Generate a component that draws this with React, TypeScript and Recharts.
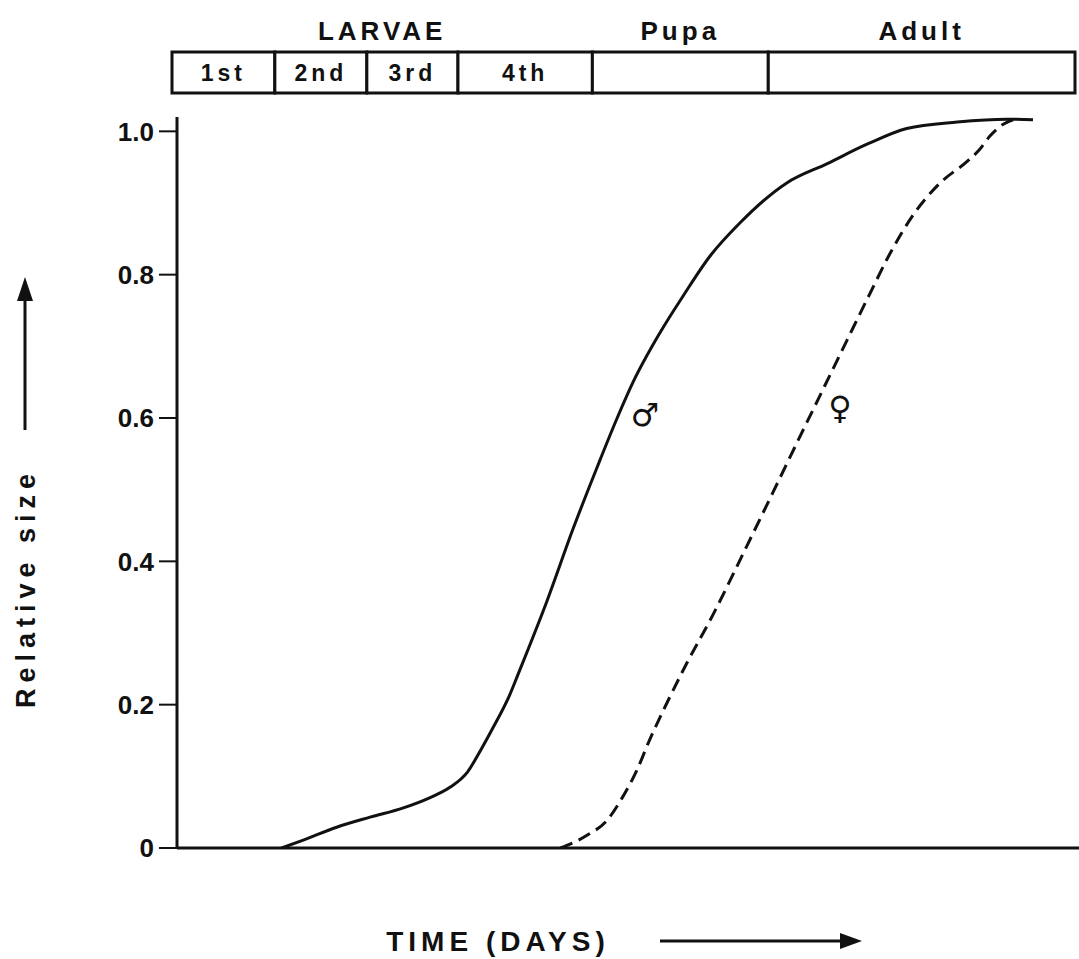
import React from "react";
import {
  Bar,
  BarChart,
  LabelList,
  Line,
  LineChart,
  ReferenceDot,
  XAxis,
  YAxis,
} from "recharts";

// time axis has no ticks, so it is kept in arbitrary units 0..100
const maleTime = [11.6, 14.0, 17.7, 21.4, 25.1, 28.0, 30.3, 32.2, 33.6, 35.0, 36.9, 37.8, 41.0, 43.9, 46.6, 48.8, 50.6, 53.5, 56.2, 59.1, 62.4, 67.6, 72.1, 76.5, 80.9, 86.5, 92.0, 94.9];
const maleSize = [0, 0.011, 0.029, 0.043, 0.056, 0.07, 0.085, 0.106, 0.135, 0.167, 0.214, 0.242, 0.344, 0.445, 0.532, 0.6, 0.651, 0.718, 0.772, 0.826, 0.872, 0.928, 0.955, 0.982, 1.004, 1.013, 1.017, 1.016];

const femaleTime = [42.5, 45.5, 47.7, 49.4, 51.0, 52.4, 54.3, 56.4, 59.4, 63.2, 66.1, 69.1, 71.0, 74.3, 76.6, 79.2, 81.6, 84.6, 87.6, 89.0, 90.1, 91.6, 92.9];
const femaleSize = [0, 0.018, 0.039, 0.071, 0.109, 0.151, 0.202, 0.255, 0.325, 0.422, 0.497, 0.575, 0.624, 0.709, 0.768, 0.833, 0.883, 0.928, 0.958, 0.975, 0.993, 1.01, 1.017];

const yTicks = [0, 0.2, 0.4, 0.6, 0.8, 1.0];

const stageNames = ["1st", "2nd", "3rd", "4th", "", ""];
const stageDays = [11.4, 10.2, 10.1, 14.9, 19.5, 34.0];
const groupNames = ["LARVAE", "Pupa", "Adult"];
const groupStageCount = [4, 1, 1];

const maleSign = { t: 51.9, v: 0.604, sign: "♂" };
const femaleSign = { t: 73.5, v: 0.614, sign: "♀" };

const ink = "#111";
const font = "'Liberation Sans', Arial, sans-serif";

const maleData = maleTime.map((t, i) => ({ t, size: maleSize[i] }));
const femaleData = femaleTime.map((t, i) => ({ t, size: femaleSize[i] }));

const stageRow: Record<string, number | string> = { row: "stages" };
stageDays.forEach((d, i) => {
  stageRow[`s${i}`] = d;
});
const stageTotal = stageDays.reduce((a, b) => a + b, 0);

const groupCenters: number[] = [];
{
  let start = 0;
  let idx = 0;
  groupStageCount.forEach((n) => {
    const len = stageDays.slice(idx, idx + n).reduce((a, b) => a + b, 0);
    groupCenters.push(start + len / 2);
    start += len;
    idx += n;
  });
}

const XLabel = (props: any) => {
  const vb = props.viewBox || { x: 177, y: 848 };
  const ty = vb.y + 93;
  return (
    <g>
      <text
        x={vb.x + 321}
        y={ty}
        textAnchor="middle"
        dominantBaseline="central"
        fontFamily={font}
        fontWeight={700}
        fontSize={28}
        letterSpacing={5}
        fill={ink}
      >
        TIME (DAYS)
      </text>
      <line x1={vb.x + 483} y1={ty} x2={vb.x + 670} y2={ty} stroke={ink} strokeWidth={3} />
      <path
        d={`M${vb.x + 685},${ty} L${vb.x + 663},${ty - 8} L${vb.x + 663},${ty + 8} Z`}
        fill={ink}
      />
    </g>
  );
};

const YLabel = (props: any) => {
  const vb = props.viewBox || { x: 0, y: 117 };
  const cx = vb.x + 26;
  const cy = vb.y + 471;
  return (
    <g>
      <text
        x={cx}
        y={cy}
        transform={`rotate(-90, ${cx}, ${cy})`}
        textAnchor="middle"
        dominantBaseline="central"
        fontFamily={font}
        fontWeight={700}
        fontSize={27}
        letterSpacing={6}
        fill={ink}
      >
        Relative size
      </text>
      <line x1={vb.x + 25} y1={vb.y + 313} x2={vb.x + 25} y2={vb.y + 180} stroke={ink} strokeWidth={3} />
      <path
        d={`M${vb.x + 25},${vb.y + 160} L${vb.x + 17},${vb.y + 184} L${vb.x + 33},${vb.y + 184} Z`}
        fill={ink}
      />
    </g>
  );
};

const App = () => {
  return (
    <div style={{ position: "absolute", left: 0, top: 0, width: 1079, height: 959, background: "#fff" }}>
      <div style={{ position: "absolute", left: 0, top: 0 }}>
        <LineChart width={1079} height={959} margin={{ top: 117, right: 0, bottom: 81, left: 0 }}>
          <XAxis
            type="number"
            dataKey="t"
            domain={[0, 100]}
            allowDataOverflow
            tick={false}
            tickLine={false}
            axisLine={{ stroke: ink, strokeWidth: 3 }}
            height={30}
            label={<XLabel />}
          />
          <YAxis
            type="number"
            domain={[0, 1.02]}
            allowDataOverflow
            ticks={yTicks}
            interval={0}
            width={177}
            tickSize={18}
            tickMargin={5}
            tickFormatter={(v: number) => (v === 0 ? "0" : v.toFixed(1))}
            axisLine={{ stroke: ink, strokeWidth: 3 }}
            tickLine={{ stroke: ink, strokeWidth: 2 }}
            tick={{ fontSize: 26, fontWeight: 700, fill: ink, fontFamily: font }}
            label={<YLabel />}
          />
          <Line
            data={maleData}
            dataKey="size"
            type="monotone"
            stroke={ink}
            strokeWidth={3}
            dot={false}
            isAnimationActive={false}
          />
          <Line
            data={femaleData}
            dataKey="size"
            type="monotone"
            stroke={ink}
            strokeWidth={3}
            strokeDasharray="13 7"
            dot={false}
            isAnimationActive={false}
          />
          {[maleSign, femaleSign].map((m) => (
            <ReferenceDot
              key={m.sign}
              x={m.t}
              y={m.v}
              r={1}
              fill="none"
              stroke="none"
              label={{
                value: m.sign,
                position: "center",
                fontSize: 32,
                fill: ink,
                fontFamily: "'DejaVu Sans', sans-serif",
              }}
            />
          ))}
        </LineChart>
      </div>
      <div style={{ position: "absolute", left: 0, top: 0 }}>
        <BarChart
          width={1079}
          height={96}
          layout="vertical"
          data={[stageRow]}
          margin={{ top: 12, right: 4, bottom: 3, left: 172 }}
          barCategoryGap={0}
        >
          <XAxis
            type="number"
            orientation="top"
            domain={[0, stageTotal]}
            ticks={groupCenters}
            interval={0}
            tickFormatter={(v: number) => groupNames[groupCenters.indexOf(v)] ?? ""}
            axisLine={false}
            tickLine={false}
            tickSize={0}
            tickMargin={12}
            height={40}
            tick={{ fontSize: 26, fontWeight: 700, fill: ink, fontFamily: font, letterSpacing: 4 }}
          />
          <YAxis type="category" dataKey="row" hide />
          {stageDays.map((_, i) => (
            <Bar
              key={i}
              dataKey={`s${i}`}
              stackId="stage"
              fill="#fff"
              stroke={ink}
              strokeWidth={3}
              isAnimationActive={false}
            >
              <LabelList
                dataKey={`s${i}`}
                position="center"
                formatter={() => stageNames[i]}
                fill={ink}
                fontSize={23}
                fontWeight={700}
                fontFamily={font}
                letterSpacing={4}
              />
            </Bar>
          ))}
        </BarChart>
      </div>
    </div>
  );
};

export default App;
